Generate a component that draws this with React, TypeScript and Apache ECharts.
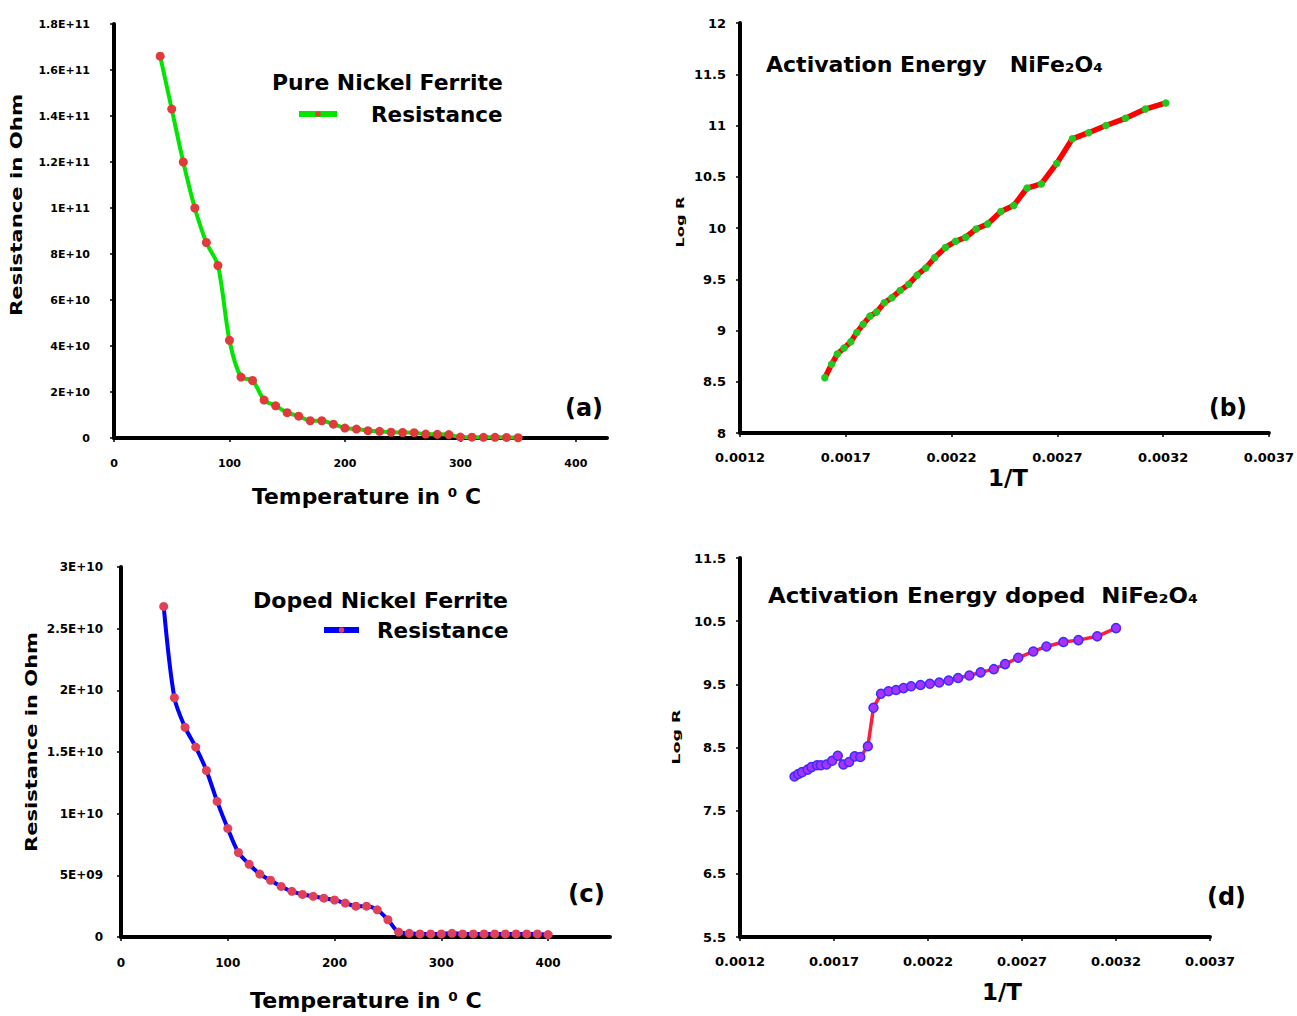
import React, { useEffect, useRef } from "react";
import * as echarts from "echarts";

// ---------------- data ----------------
// (a) Pure nickel ferrite: resistance vs temperature
const aTemp = [40, 50, 60, 70, 80, 90, 100, 110, 120, 130, 140, 150, 160, 170, 180, 190, 200, 210, 220, 230, 240, 250, 260, 270, 280, 290, 300, 310, 320, 330, 340, 350];
const aRes = [1.66e11, 1.43e11, 1.2e11, 1.0e11, 8.5e10, 7.5e10, 4.25e10, 2.65e10, 2.5e10, 1.65e10, 1.4e10, 1.1e10, 9.5e9, 7.5e9, 7.5e9, 6.0e9, 4.3e9, 3.9e9, 3.2e9, 2.9e9, 2.5e9, 2.4e9, 2.3e9, 1.7e9, 1.6e9, 1.5e9, 4.0e8, 3.5e8, 3.0e8, 3.0e8, 2.5e8, 1.0e8];

// (b) Activation energy NiFe2O4: log R vs 1/T
const bInvT = [0.001601, 0.001633, 0.00166, 0.001692, 0.001724, 0.001752, 0.001782, 0.001814, 0.001846, 0.001882, 0.001918, 0.001957, 0.001997, 0.002037, 0.002078, 0.00212, 0.002171, 0.002219, 0.002267, 0.002316, 0.002371, 0.002433, 0.002494, 0.002557, 0.002624, 0.002697, 0.002771, 0.002848, 0.00293, 0.003022, 0.003116, 0.003213];
const bLogR = [8.54, 8.67, 8.77, 8.83, 8.89, 8.98, 9.06, 9.14, 9.18, 9.27, 9.32, 9.39, 9.45, 9.54, 9.61, 9.71, 9.81, 9.87, 9.91, 9.99, 10.04, 10.16, 10.22, 10.39, 10.43, 10.63, 10.87, 10.93, 11.0, 11.07, 11.16, 11.22];

// (c) Doped nickel ferrite: resistance vs temperature
const cTemp = [40, 50, 60, 70, 80, 90, 100, 110, 120, 130, 140, 150, 160, 170, 180, 190, 200, 210, 220, 230, 240, 250, 260, 270, 280, 290, 300, 310, 320, 330, 340, 350, 360, 370, 380, 390, 400];
const cRes = [2.68e10, 1.94e10, 1.7e10, 1.54e10, 1.35e10, 1.1e10, 8.8e9, 6.85e9, 5.9e9, 5.1e9, 4.6e9, 4.1e9, 3.7e9, 3.45e9, 3.3e9, 3.15e9, 3.0e9, 2.75e9, 2.5e9, 2.5e9, 2.2e9, 1.4e9, 4.0e8, 3.0e8, 2.5e8, 2.5e8, 2.5e8, 3.0e8, 2.5e8, 2.5e8, 2.5e8, 2.5e8, 2.5e8, 2.5e8, 2.5e8, 2.5e8, 2.0e8];

// (d) Activation energy doped NiFe2O4: log R vs 1/T
const dInvT = [0.00149, 0.00151, 0.00153, 0.00156, 0.00158, 0.00161, 0.00163, 0.00166, 0.00169, 0.00172, 0.00175, 0.00178, 0.00181, 0.00184, 0.00188, 0.00191, 0.00195, 0.00199, 0.00203, 0.00207, 0.00211, 0.00216, 0.00221, 0.00226, 0.00231, 0.00236, 0.00242, 0.00248, 0.00255, 0.00261, 0.00268, 0.00276, 0.00283, 0.00292, 0.003, 0.0031, 0.0032];
const dLogR = [8.04, 8.08, 8.11, 8.15, 8.19, 8.22, 8.22, 8.23, 8.29, 8.37, 8.23, 8.27, 8.36, 8.35, 8.52, 9.13, 9.35, 9.39, 9.41, 9.44, 9.47, 9.49, 9.51, 9.53, 9.56, 9.6, 9.64, 9.69, 9.74, 9.82, 9.92, 10.02, 10.1, 10.17, 10.2, 10.26, 10.39];

// tick labels
const tempTicks = ["0", "100", "200", "300", "400"];
const tempTickValues = [0, 100, 200, 300, 400];
const aYTicks = ["0", "2E+10", "4E+10", "6E+10", "8E+10", "1E+11", "1.2E+11", "1.4E+11", "1.6E+11", "1.8E+11"];
const cYTicks = ["0", "5E+09", "1E+10", "1.5E+10", "2E+10", "2.5E+10", "3E+10"];
const invTTicks = ["0.0012", "0.0017", "0.0022", "0.0027", "0.0032", "0.0037"];
const bYTicks = ["8", "8.5", "9", "9.5", "10", "10.5", "11", "11.5", "12"];
const dYTicks = ["5.5", "6.5", "7.5", "8.5", "9.5", "10.5", "11.5"];

// ---------------- helpers ----------------
const W = 1297;
const H = 1016;
const FONT = "DejaVu Sans";

let measureCtx: CanvasRenderingContext2D | null = null;
function measure(text: string, size: number, weight = "bold"): number {
  if (!measureCtx) measureCtx = document.createElement("canvas").getContext("2d");
  measureCtx!.font = `${weight} ${size}px "${FONT}"`;
  return measureCtx!.measureText(text).width || 1;
}

function fitText(text: string, x: number, y: number, size: number, width: number, align = "left", weight = "bold", rotate = 0) {
  const s = width / measure(text, size, weight);
  return {
    type: "text",
    x,
    y,
    rotation: rotate,
    scaleX: s,
    scaleY: 1,
    silent: true,
    style: {
      text,
      fontFamily: FONT,
      fontWeight: weight,
      fontSize: size,
      fill: "#000",
      align,
      textAlign: align,
      verticalAlign: "middle",
      textVerticalAlign: "middle",
    },
  };
}

function labelFrom(list: string[], min: number, interval: number) {
  return (v: number) => {
    const i = Math.round((v - min) / interval);
    return list[i] ?? "";
  };
}

function valueAxis(gridIndex: number, min: number, max: number, interval: number, fs: number, margin: number, labels: string[], custom?: number[]) {
  const axisLabel: any = {
    color: "#000",
    fontFamily: FONT,
    fontWeight: "bold",
    fontSize: fs,
    margin,
    formatter: labelFrom(labels, min, interval),
  };
  const axisTick: any = { show: true, length: 4, lineStyle: { color: "#000", width: 1.5 } };
  if (custom) {
    axisLabel.customValues = custom;
    axisTick.customValues = custom;
  }
  return {
    type: "value",
    gridIndex,
    min,
    max,
    interval,
    axisLine: { show: true, onZero: false, lineStyle: { color: "#000", width: 4 } },
    axisTick,
    splitLine: { show: false },
    axisLabel,
  };
}

function buildOption(): any {
  const legendText = { color: "#000", fontFamily: FONT, fontWeight: "bold", fontSize: 21.5 };
  return {
    animation: false,
    backgroundColor: "#ffffff",
    grid: [
      { left: 114, top: 24, width: 493, height: 414 },
      { left: 740, top: 23, width: 530, height: 410 },
      { left: 121, top: 567, width: 489, height: 370 },
      { left: 740, top: 558, width: 470, height: 379 },
    ],
    xAxis: [
      valueAxis(0, 0, 427, 100, 11, 20, tempTicks, tempTickValues),
      valueAxis(1, 0.0012, 0.0037, 0.0005, 13, 18, invTTicks),
      valueAxis(2, 0, 458, 100, 12, 20, tempTicks, tempTickValues),
      valueAxis(3, 0.0012, 0.0037, 0.0005, 13, 18, invTTicks),
    ],
    yAxis: [
      valueAxis(0, 0, 1.8e11, 2e10, 11, 24, aYTicks),
      valueAxis(1, 8, 12, 0.5, 13, 14, bYTicks),
      valueAxis(2, 0, 3e10, 5e9, 12, 18, cYTicks),
      valueAxis(3, 5.5, 11.5, 1, 13, 14, dYTicks),
    ],
    legend: [
      {
        left: 296,
        top: 103,
        padding: 0,
        itemWidth: 38,
        itemHeight: 7,
        selectedMode: false,
        data: ["Resistance"],
        lineStyle: { width: 6 },
        textStyle: { ...legendText, padding: [0, 0, 0, 29] },
      },
      {
        left: 321,
        top: 619,
        padding: 0,
        itemWidth: 35,
        itemHeight: 7,
        selectedMode: false,
        data: ["Resistance (doped)"],
        formatter: "Resistance",
        lineStyle: { width: 6 },
        textStyle: { ...legendText, padding: [0, 0, 0, 13] },
      },
    ],
    series: [
      {
        name: "Resistance",
        type: "line",
        xAxisIndex: 0,
        yAxisIndex: 0,
        data: aTemp.map((t, i) => [t, aRes[i]]),
        smooth: 0.3,
        symbol: "circle",
        symbolSize: 9,
        lineStyle: { color: "#00e600", width: 4 },
        itemStyle: { color: "#e03a3a", borderWidth: 0 },
        emphasis: { disabled: true },
      },
      {
        name: "Log R",
        type: "line",
        xAxisIndex: 1,
        yAxisIndex: 1,
        data: bInvT.map((x, i) => [x, bLogR[i]]),
        symbol: "circle",
        symbolSize: 7.5,
        lineStyle: { color: "#ff0000", width: 5.5 },
        itemStyle: { color: "#22c81e", borderWidth: 0 },
        emphasis: { disabled: true },
      },
      {
        name: "Resistance (doped)",
        type: "line",
        xAxisIndex: 2,
        yAxisIndex: 2,
        data: cTemp.map((t, i) => [t, cRes[i]]),
        smooth: 0.3,
        symbol: "circle",
        symbolSize: 9,
        lineStyle: { color: "#0000ff", width: 4 },
        itemStyle: { color: "#e04058", borderWidth: 0 },
        emphasis: { disabled: true },
      },
      {
        name: "Log R (doped)",
        type: "line",
        xAxisIndex: 3,
        yAxisIndex: 3,
        data: dInvT.map((x, i) => [x, dLogR[i]]),
        symbol: "circle",
        symbolSize: 9,
        lineStyle: { color: "#ff1f3d", width: 3.5 },
        itemStyle: { color: "#a833ff", borderColor: "#3d2bff", borderWidth: 1.5 },
        emphasis: { disabled: true },
      },
    ],
    graphic: {
      elements: [
        fitText("Pure Nickel Ferrite", 272, 83, 21, 231),
        fitText("Doped Nickel Ferrite", 253, 601, 22, 255),
        fitText("Activation Energy   NiFe\u2082O\u2084", 766, 65, 22, 337),
        fitText("Activation Energy doped  NiFe\u2082O\u2084", 768, 595, 22, 430),
        fitText("Temperature in \u2070 C", 252, 497, 21.5, 229),
        fitText("Temperature in \u2070 C", 250, 1001, 21.5, 232),
        fitText("1/T", 1008, 478, 23, 40, "center"),
        fitText("1/T", 1002, 992, 23, 40, "center"),
        fitText("Resistance in Ohm", 17, 205, 15, 222, "center", "bold", Math.PI / 2),
        fitText("Resistance in Ohm", 32, 742, 15, 220, "center", "bold", Math.PI / 2),
        fitText("Log R", 680, 222, 11, 51, "center", "bold", Math.PI / 2),
        fitText("Log R", 676, 737, 11, 55, "center", "bold", Math.PI / 2),
        fitText("(a)", 565, 407, 25, 38),
        fitText("(b)", 1209, 408, 25, 38),
        fitText("(c)", 568, 893, 25, 37),
        fitText("(d)", 1207, 896, 25, 39),
      ],
    },
  };
}

export default function App() {
  const ref = useRef<HTMLDivElement>(null);
  useEffect(() => {
    if (!ref.current) return;
    const chart = echarts.init(ref.current, null, { renderer: "svg" });
    chart.setOption(buildOption());
    return () => {
      chart.dispose();
    };
  }, []);
  return (
    <div
      ref={ref}
      style={{ position: "absolute", left: 0, top: 0, width: W, height: H, background: "#fff" }}
    />
  );
}
